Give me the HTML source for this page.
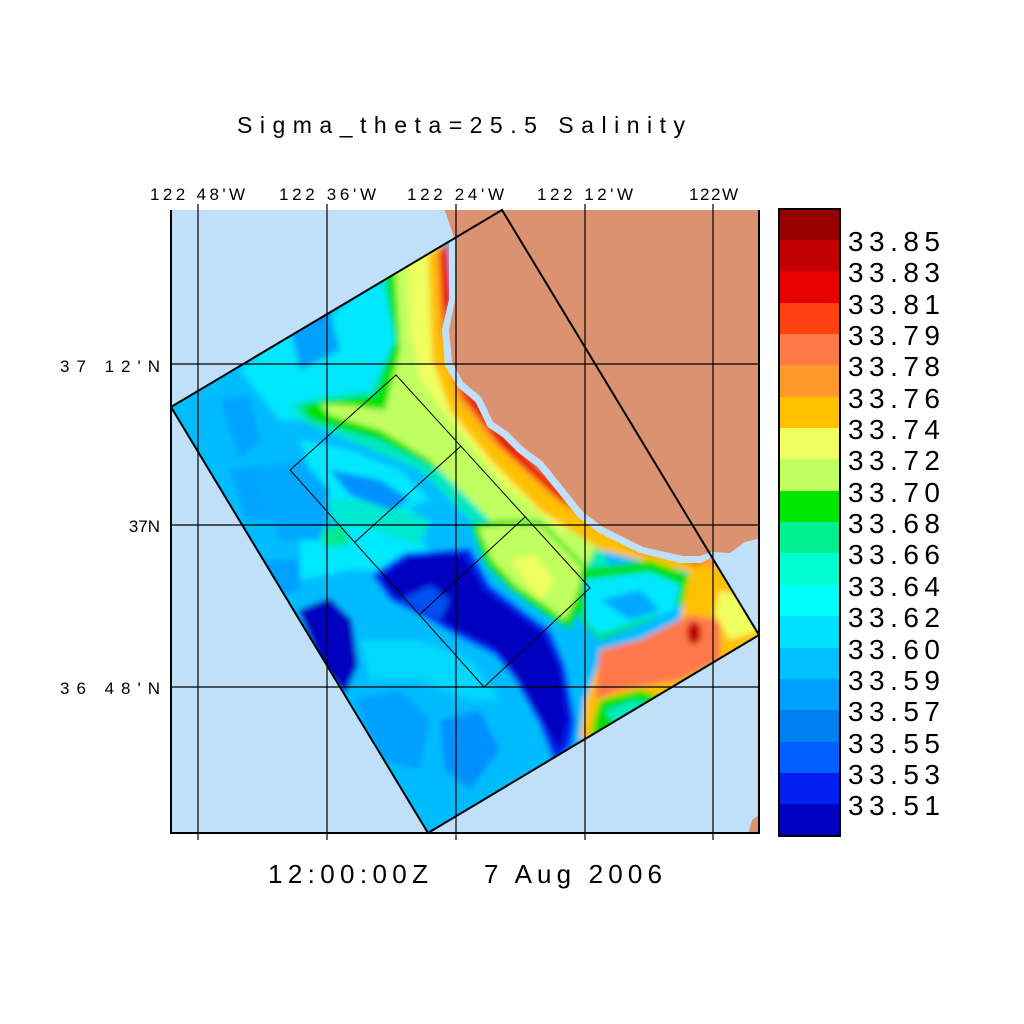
<!DOCTYPE html>
<html><head><meta charset="utf-8"><style>
html,body{margin:0;padding:0;background:#fff;}
svg{display:block;}
text{font-family:"Liberation Sans",sans-serif;fill:#000;}
</style></head><body>
<svg width="1024" height="1024" viewBox="0 0 1024 1024" xmlns="http://www.w3.org/2000/svg">
<defs>
<clipPath id="dom"><polygon points="502,210 759,635 428,833 171,407"/></clipPath>
<clipPath id="plot"><rect x="171" y="210" width="588" height="623"/></clipPath>
<filter id="bl" x="-10%" y="-10%" width="120%" height="120%"><feGaussianBlur stdDeviation="3"/></filter>
</defs>
<rect width="1024" height="1024" fill="#fff"/>
<text x="237" y="133" font-size="23" textLength="448" lengthAdjust="spacing">Sigma_theta=25.5 Salinity</text>
<g font-size="17">
<text x="150" y="200" textLength="95" lengthAdjust="spacing">122 48'W</text>
<text x="279" y="200" textLength="97" lengthAdjust="spacing">122 36'W</text>
<text x="407" y="200" textLength="97" lengthAdjust="spacing">122 24'W</text>
<text x="537" y="200" textLength="96" lengthAdjust="spacing">122 12'W</text>
<text x="689" y="200" textLength="49" lengthAdjust="spacing">122W</text>
<text x="60" y="372" textLength="100" lengthAdjust="spacing">37 12'N</text>
<text x="160" y="532" text-anchor="end">37N</text>
<text x="60" y="694" textLength="100" lengthAdjust="spacing">36 48'N</text>
</g>
<text x="268" y="883" font-size="26" textLength="160" lengthAdjust="spacing">12:00:00Z</text>
<text x="484" y="883" font-size="26" textLength="178" lengthAdjust="spacing">7 Aug 2006</text>

<g clip-path="url(#plot)">
<rect x="171" y="210" width="588" height="623" fill="#c0e0fa"/>
<g clip-path="url(#dom)">
<g filter="url(#bl)">
<rect x="160" y="200" width="610" height="640" fill="#00bcff"/>
<!-- NW cyan zone -->
<polygon points="240,370 300,320 380,280 430,250 420,330 400,400 330,420 280,420" fill="#00e8ff"/>
<polygon points="290,330 330,310 340,350 300,370" fill="#00a0ff"/>
<polygon points="300,300 340,285 350,300 320,320" fill="#0070f0"/>
<polygon points="220,400 250,395 260,440 240,460" fill="#00a4ff"/>
<polygon points="230,470 260,465 270,520 245,520" fill="#00a4ff"/>
<polygon points="280,480 330,470 380,480 420,500 400,520 340,510" fill="#00e8ff"/>
<polygon points="300,540 350,520 410,530 440,560 400,570 350,570 300,580" fill="#00e8ff"/>
<polygon points="320,530 345,525 350,545 325,548" fill="#00e890"/>
<polygon points="330,500 380,500 430,520 420,545 370,530 330,520" fill="#00e8d0"/>
<polygon points="300,440 350,450 400,470 430,500 410,505 360,480 310,470" fill="#00e8ff"/>
<polygon points="330,470 380,480 410,500 390,510 350,495" fill="#0090ff"/>
<polygon points="250,560 300,560 300,590 260,600" fill="#00a0ff"/>
<!-- green belt -->
<polygon points="378,270 440,240 445,330 470,400 520,460 600,540 610,570 580,600 560,560 520,550 470,520 420,470 360,445 300,420 290,405 330,395 370,390 395,340" fill="#00e8c0"/>
<polygon points="385,270 440,240 445,330 470,400 520,460 600,540 590,565 560,550 530,545 490,510 440,470 380,440 310,420 300,405 335,400 375,395 395,340" fill="#00e000"/>
<polygon points="395,268 440,242 445,330 470,400 520,460 600,540 590,560 570,590 540,560 500,530 470,500 430,460 380,430 330,415 320,405 345,405 385,410 400,350" fill="#c0ff60"/>
<polygon points="470,525 500,520 540,520 590,570 585,600 570,630 545,615 510,590 485,565" fill="#00e000"/>
<polygon points="478,528 505,525 540,525 585,570 575,600 565,620 545,605 515,585 492,560" fill="#c0ff60"/>
<polygon points="510,560 535,555 555,580 540,600" fill="#f0ff60"/>
<polygon points="408,262 440,242 445,330 470,400 520,460 600,530 560,530 500,480 450,420 420,380 410,330" fill="#f0ff60"/>
<polygon points="428,255 442,245 446,330 465,390 500,435 560,490 620,530 720,562 700,575 600,550 540,510 490,460 450,410 432,360" fill="#ffc000"/>
<polygon points="436,252 446,244 450,330 470,390 505,432 560,485 625,530 720,560 715,568 620,540 550,495 490,440 455,395 440,330" fill="#ff9828"/>
<polygon points="440,250 448,244 452,300 445,330 460,385 478,400 505,435 560,490 600,530 640,552 700,562 700,566 620,542 560,500 500,445 462,395 446,340 442,300" fill="#e80000"/>
<!-- SE pocket -->
<polygon points="580,570 650,560 690,575 690,600 650,620 600,640 580,620" fill="#00e000"/>
<polygon points="585,580 650,572 680,585 675,610 640,620 600,635 585,620" fill="#00e8ff"/>
<polygon points="600,600 640,590 660,610 630,620" fill="#00a8ff"/>
<!-- SE warm -->
<polygon points="690,570 759,560 770,640 730,660 680,700 600,740 580,740 585,700 600,660 640,640 680,620" fill="#ffc000"/>
<polygon points="600,650 640,640 690,615 720,620 720,660 680,680 620,690 595,700" fill="#ff7848"/>
<polygon points="720,590 750,600 759,630 730,640 715,615" fill="#f0ff60"/>
<ellipse cx="694" cy="633" rx="7" ry="11" fill="#c00000"/>
<polygon points="600,700 640,690 670,700 620,730 590,740 595,715" fill="#00e000"/>
<polygon points="605,710 635,700 650,705 615,725" fill="#00e8c0"/>
<!-- navy band -->
<polygon points="372,575 405,553 445,550 470,548 490,585 525,612 550,630 565,665 575,720 572,745 555,765 540,725 515,680 495,655 455,635 420,615 390,600" fill="#0020f0"/>
<polygon points="380,578 408,558 445,555 465,556 484,590 518,615 545,635 560,670 568,720 560,750 545,725 520,680 495,648 455,628 420,610 395,597" fill="#0000c0"/>
<polygon points="298,610 330,598 352,620 358,665 345,695 320,665" fill="#0000c0"/>
<polygon points="400,600 430,585 450,600 440,620" fill="#0050f0"/>
<!-- lower blues -->
<polygon points="355,700 400,690 430,720 420,770 380,760" fill="#00a0ff"/>
<polygon points="440,720 480,710 500,750 470,790 445,770" fill="#0090ff"/>
<polygon points="360,640 420,640 470,660 500,700 470,700 420,680 370,680" fill="#00d8ff"/>
<polygon points="250,470 300,460 330,490 320,540 280,540" fill="#00a8ff"/>
</g>
</g>
<!-- land -->
<polygon points="441,205 452,240 452,300 445,330 448,365 460,385 478,400 490,425 505,435 520,450 540,465 560,490 580,515 600,530 640,550 680,560 700,560 710,555 730,556 745,545 765,540 765,205" fill="#c0e0fa" stroke="#c0e0fa" stroke-width="6" stroke-linejoin="round"/>
<polygon points="443,205 455,240 455,300 449,330 452,362 463,382 481,397 493,422 508,432 523,447 543,462 563,487 583,512 603,527 643,547 683,556 700,556 711,552 730,553 745,542 765,537 765,205" fill="#da9270"/>
<polygon points="752,820 759,815 765,835 748,835" fill="#da9270"/>
</g>
<!-- grid -->
<g stroke="#000" stroke-width="1.2">
<line x1="198" y1="210" x2="198" y2="840"/><line x1="327" y1="210" x2="327" y2="840"/>
<line x1="456" y1="210" x2="456" y2="840"/><line x1="585" y1="210" x2="585" y2="840"/>
<line x1="713" y1="210" x2="713" y2="840"/>
<line x1="171" y1="364" x2="759" y2="364"/><line x1="171" y1="525" x2="759" y2="525"/>
<line x1="171" y1="687" x2="759" y2="687"/>
<line x1="198" y1="204" x2="198" y2="210"/><line x1="327" y1="204" x2="327" y2="210"/>
<line x1="456" y1="204" x2="456" y2="210"/><line x1="585" y1="204" x2="585" y2="210"/>
<line x1="713" y1="204" x2="713" y2="210"/>
</g>
<polyline points="171,210 171,833 759,833 759,210" fill="none" stroke="#000" stroke-width="2"/>
<polygon points="502,210 759,635 428,833 171,407" fill="none" stroke="#000" stroke-width="2"/>
<g fill="none" stroke="#000" stroke-width="1">
<polygon points="396,375 590,588 484,687 290,470"/>
<line x1="461" y1="446" x2="355" y2="542"/>
<line x1="525" y1="517" x2="419" y2="615"/>
</g>
<!-- colorbar -->
<g>
<rect x="779" y="209" width="61" height="32" fill="#980000"/>
<rect x="779" y="240" width="61" height="32" fill="#c00000"/>
<rect x="779" y="271" width="61" height="32" fill="#e80000"/>
<rect x="779" y="303" width="61" height="32" fill="#ff4010"/>
<rect x="779" y="334" width="61" height="32" fill="#ff7848"/>
<rect x="779" y="365" width="61" height="32" fill="#ff9828"/>
<rect x="779" y="397" width="61" height="32" fill="#ffc000"/>
<rect x="779" y="428" width="61" height="32" fill="#f0ff60"/>
<rect x="779" y="459" width="61" height="32" fill="#c0ff60"/>
<rect x="779" y="491" width="61" height="32" fill="#00e800"/>
<rect x="779" y="522" width="61" height="32" fill="#00f090"/>
<rect x="779" y="553" width="61" height="32" fill="#00ffd0"/>
<rect x="779" y="585" width="61" height="32" fill="#00ffff"/>
<rect x="779" y="616" width="61" height="32" fill="#00e0ff"/>
<rect x="779" y="648" width="61" height="32" fill="#00c0ff"/>
<rect x="779" y="679" width="61" height="32" fill="#00a0ff"/>
<rect x="779" y="710" width="61" height="32" fill="#0080f0"/>
<rect x="779" y="742" width="61" height="32" fill="#0060ff"/>
<rect x="779" y="773" width="61" height="32" fill="#0020f0"/>
<rect x="779" y="804" width="61" height="32" fill="#0000c0"/>
<rect x="779" y="209" width="61" height="627" fill="none" stroke="#000" stroke-width="2"/>
</g>
<g font-size="28">
<text x="848" y="251" textLength="92" lengthAdjust="spacing">33.85</text>
<text x="848" y="282" textLength="92" lengthAdjust="spacing">33.83</text>
<text x="848" y="314" textLength="92" lengthAdjust="spacing">33.81</text>
<text x="848" y="345" textLength="92" lengthAdjust="spacing">33.79</text>
<text x="848" y="376" textLength="92" lengthAdjust="spacing">33.78</text>
<text x="848" y="408" textLength="92" lengthAdjust="spacing">33.76</text>
<text x="848" y="439" textLength="92" lengthAdjust="spacing">33.74</text>
<text x="848" y="470" textLength="92" lengthAdjust="spacing">33.72</text>
<text x="848" y="502" textLength="92" lengthAdjust="spacing">33.70</text>
<text x="848" y="533" textLength="92" lengthAdjust="spacing">33.68</text>
<text x="848" y="564" textLength="92" lengthAdjust="spacing">33.66</text>
<text x="848" y="596" textLength="92" lengthAdjust="spacing">33.64</text>
<text x="848" y="627" textLength="92" lengthAdjust="spacing">33.62</text>
<text x="848" y="659" textLength="92" lengthAdjust="spacing">33.60</text>
<text x="848" y="690" textLength="92" lengthAdjust="spacing">33.59</text>
<text x="848" y="721" textLength="92" lengthAdjust="spacing">33.57</text>
<text x="848" y="753" textLength="92" lengthAdjust="spacing">33.55</text>
<text x="848" y="784" textLength="92" lengthAdjust="spacing">33.53</text>
<text x="848" y="815" textLength="92" lengthAdjust="spacing">33.51</text>
</g>
</svg>
</body></html>
